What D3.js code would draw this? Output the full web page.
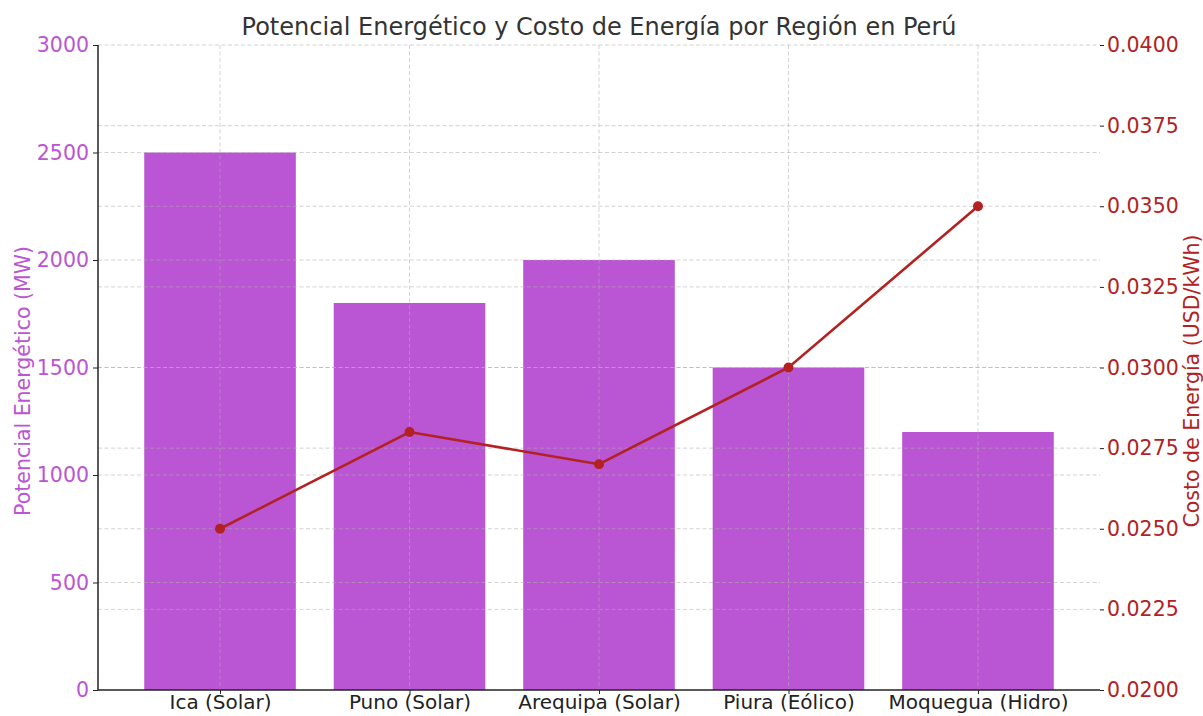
<!DOCTYPE html>
<html><head><meta charset="utf-8">
<script src="https://cdn.jsdelivr.net/npm/d3@7"></script>
<style>body{margin:0;background:#fff}svg{display:block}text{font-family:"DejaVu Sans",sans-serif}</style>
</head><body><svg id="c" width="1203" height="716"></svg>
<script>
const categories = ["Ica (Solar)", "Puno (Solar)", "Arequipa (Solar)", "Piura (Eólico)", "Moquegua (Hidro)"];
const potencial = [2500, 1800, 2000, 1500, 1200];
const costo = [0.025, 0.028, 0.027, 0.030, 0.035];
const leftTicks = [0, 500, 1000, 1500, 2000, 2500, 3000];
const rightTicks = [0.0200, 0.0225, 0.0250, 0.0275, 0.0300, 0.0325, 0.0350, 0.0375, 0.0400];

const m = {left: 98, right: 1100, top: 45, bottom: 690};
const barColor = "#BA55D3", lineColor = "#B22222";
const fs = "20.5px";
const svg = d3.select("#c");

const x = d3.scaleLinear().domain([-0.644, categories.length - 1 + 0.644]).range([m.left, m.right]);
const yL = d3.scaleLinear().domain([0, 3000]).range([m.bottom, m.top]);
const yR = d3.scaleLinear().domain([0.02, 0.04]).range([m.bottom, m.top]);
const bw = 0.8;

// bars
svg.append("g").selectAll("rect").data(potencial).join("rect")
  .attr("x", (d, i) => x(i - bw / 2)).attr("width", x(bw) - x(0))
  .attr("y", d => yL(d)).attr("height", d => yL(0) - yL(d))
  .attr("fill", barColor);

// grids
const grid = svg.append("g").attr("stroke", "#b0b0b0").attr("stroke-opacity", 0.7)
  .attr("stroke-dasharray", "4,2.5").attr("stroke-width", 0.8);
grid.selectAll("line.gl").data(leftTicks.slice(1)).join("line")
  .attr("x1", m.left).attr("x2", m.right).attr("y1", d => yL(d)).attr("y2", d => yL(d));
grid.selectAll("line.gr").data(rightTicks.slice(1, -1)).join("line")
  .attr("x1", m.left).attr("x2", m.right).attr("y1", d => yR(d)).attr("y2", d => yR(d));
grid.selectAll("line.gv").data(categories).join("line")
  .attr("x1", (d, i) => x(i)).attr("x2", (d, i) => x(i)).attr("y1", m.top).attr("y2", m.bottom);

// line
const line = d3.line().x((d, i) => x(i)).y(d => yR(d));
svg.append("path").datum(costo).attr("d", line).attr("fill", "none")
  .attr("stroke", lineColor).attr("stroke-width", 2.6);
svg.append("g").selectAll("circle").data(costo).join("circle")
  .attr("cx", (d, i) => x(i)).attr("cy", d => yR(d)).attr("r", 5).attr("fill", lineColor);

// left axis
const gL = svg.append("g").attr("transform", `translate(${m.left},0)`)
  .call(d3.axisLeft(yL).tickValues(leftTicks).tickFormat(d3.format("d")).tickSize(5).tickPadding(4));
gL.select(".domain").attr("stroke", "#222").attr("stroke-width", 1.5).attr("d", `M0,${m.bottom}V${m.top}`);
gL.selectAll(".tick line").attr("stroke", "#222");
gL.selectAll("text").attr("fill", barColor).style("font-size", fs).style("font-family", "DejaVu Sans");

// right axis
const gR = svg.append("g").attr("transform", `translate(${m.right},0)`)
  .call(d3.axisRight(yR).tickValues(rightTicks).tickFormat(d3.format(".4f")).tickSize(4).tickPadding(3));
gR.select(".domain").remove();
gR.selectAll(".tick line").attr("stroke", "#222");
gR.selectAll("text").attr("fill", lineColor).style("font-size", fs).style("font-family", "DejaVu Sans");

// bottom axis
const gB = svg.append("g").attr("transform", `translate(0,${m.bottom})`)
  .call(d3.axisBottom(x).tickValues(d3.range(categories.length)).tickFormat(i => categories[i]).tickSize(4).tickPadding(1));
gB.select(".domain").attr("stroke", "#222").attr("stroke-width", 1.5).attr("d", `M${m.left},0H${m.right}`);
gB.selectAll(".tick line").attr("stroke", "#222");
gB.selectAll("text").attr("fill", "#222").style("font-size", "20px").style("font-family", "DejaVu Sans");

// labels
svg.append("text").attr("x", 599).attr("y", 35).attr("text-anchor", "middle")
  .attr("fill", "#333").style("font-size", "24px").text("Potencial Energético y Costo de Energía por Región en Perú");
svg.append("text").attr("transform", `translate(30,381) rotate(-90)`).attr("text-anchor", "middle")
  .attr("fill", barColor).style("font-size", fs).text("Potencial Energético (MW)");
svg.append("text").attr("transform", `translate(1199,381) rotate(-90)`).attr("text-anchor", "middle")
  .attr("fill", lineColor).style("font-size", fs).text("Costo de Energía (USD/kWh)");
</script></body></html>
